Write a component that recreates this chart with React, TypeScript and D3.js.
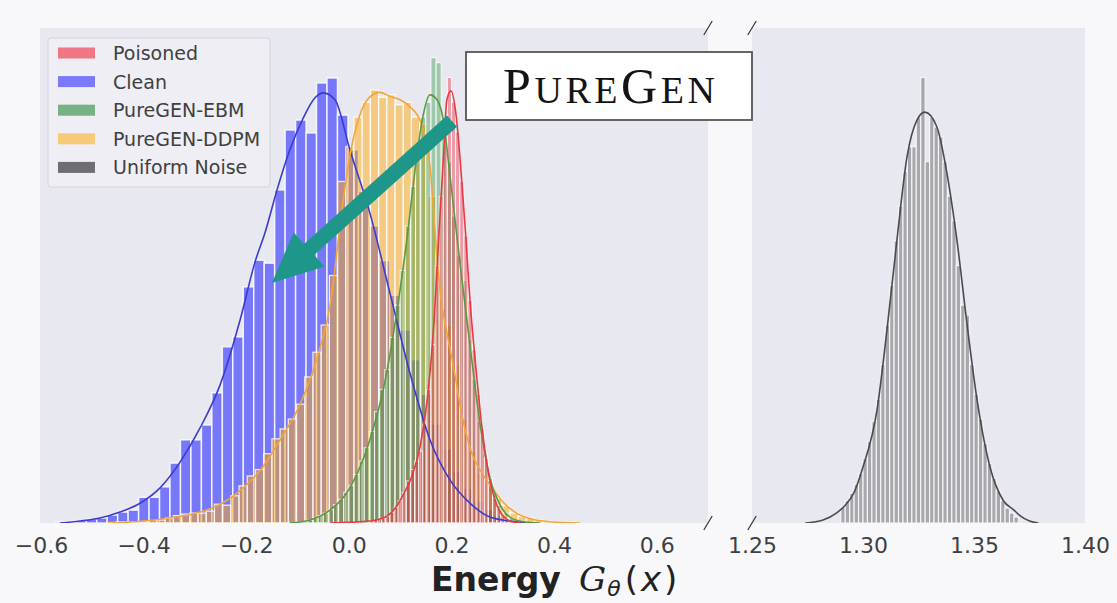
import React, { useEffect, useRef } from "react";
import * as d3 from "d3";

// histogram bins: first bin edge, bin width, bar heights (density)
const cleanStart = -0.573;
const cleanWidth = 0.0204;
const cleanHeights = [0.02, 0.03, 0.05, 0.08, 0.10, 0.16, 0.22, 0.26, 0.52, 0.52, 0.73, 1.21, 1.68, 1.68, 1.98, 2.63, 3.56, 3.76, 4.77, 5.31, 5.25, 6.73, 7.94, 8.14, 7.88, 8.89, 8.99, 8.24, 7.54, 6.7, 6.0, 5.3, 4.6, 3.9, 3.3, 2.6, 2.0, 1.5, 1.05, 0.7, 0.45, 0.28, 0.15, 0.08, 0.04];

const ddpmStart = -0.47;
const ddpmWidth = 0.016;
const ddpmHeights = [0.01, 0.02, 0.02, 0.02, 0.03, 0.05, 0.06, 0.10, 0.15, 0.18, 0.20, 0.20, 0.24, 0.38, 0.36, 0.55, 0.75, 0.95, 1.08, 1.40, 1.70, 1.90, 2.10, 2.40, 2.95, 3.45, 4.00, 5.00, 6.90, 7.60, 8.20, 8.50, 8.75, 8.60, 8.65, 8.45, 8.50, 8.20, 8.05, 6.60, 4.80, 4.00, 3.20, 2.10, 1.45, 1.00, 0.80, 0.50, 0.35, 0.20, 0.13, 0.10, 0.06, 0.04, 0.03, 0.02, 0.01];

const ebmStart = -0.10;
const ebmWidth = 0.01;
const ebmHeights = [0.02, 0.03, 0.06, 0.10, 0.15, 0.20, 0.27, 0.37, 0.48, 0.62, 0.76, 0.98, 1.25, 1.52, 1.85, 2.25, 2.70, 3.10, 3.75, 4.40, 5.10, 6.00, 6.80, 7.60, 8.20, 8.50, 9.40, 9.30, 8.00, 7.30, 6.20, 5.40, 4.90, 3.70, 2.90, 2.05, 1.40, 0.90, 0.60, 0.36, 0.20, 0.10];

const poisonStart = 0.04;
const poisonWidth = 0.008;
const poisonHeights = [0.04, 0.05, 0.07, 0.10, 0.14, 0.22, 0.32, 0.45, 0.62, 0.85, 1.08, 1.25, 1.45, 2.00, 2.70, 3.60, 5.20, 6.60, 8.00, 9.00, 8.50, 7.90, 6.90, 5.80, 4.50, 3.50, 2.60, 1.90, 1.30, 0.85, 0.50, 0.30, 0.16, 0.08, 0.04];

const noiseStart = 1.29;
const noiseWidth = 0.002;
const noiseHeights = [0.32, 0.45, 0.6, 0.78, 1.0, 1.3, 1.65, 2.05, 2.5, 3.2, 4.0, 4.8, 5.7, 6.4, 7.1, 7.6, 7.6, 8.2, 9.0, 7.3, 8.2, 8.0, 7.8, 7.3, 6.6, 6.1, 5.2, 4.4, 4.2, 3.2, 2.6, 2.1, 1.6, 1.2, 0.9, 0.65, 0.45, 0.3, 0.2, 0.12];

// kde curves: [energy, density]
const cleanKde = [[-0.563, 0], [-0.524, 0.04], [-0.485, 0.1], [-0.446, 0.22], [-0.407, 0.4], [-0.368, 0.71], [-0.329, 1.23], [-0.29, 1.92], [-0.251, 2.79], [-0.212, 4.1], [-0.183, 5.27], [-0.163, 5.88], [-0.14, 6.73], [-0.115, 7.54], [-0.089, 8.18], [-0.066, 8.59], [-0.05, 8.69], [-0.027, 8.55], [0.002, 7.54], [0.041, 6.26], [0.08, 4.65], [0.119, 3.03], [0.158, 1.68], [0.197, 0.87], [0.236, 0.4], [0.275, 0.12], [0.314, 0.04], [0.353, 0]];
const ddpmKde = [[-0.47, 0], [-0.41, 0.03], [-0.35, 0.1], [-0.29, 0.22], [-0.25, 0.38], [-0.21, 0.67], [-0.17, 1.1], [-0.13, 1.75], [-0.095, 2.4], [-0.06, 3.4], [-0.035, 4.5], [-0.015, 6.2], [0.0, 7.3], [0.02, 8.2], [0.04, 8.6], [0.06, 8.7], [0.08, 8.62], [0.1, 8.55], [0.12, 8.4], [0.14, 8.1], [0.16, 7.0], [0.17, 5.6], [0.18, 4.5], [0.19, 3.9], [0.205, 3.1], [0.22, 2.2], [0.24, 1.4], [0.26, 1.0], [0.28, 0.7], [0.3, 0.43], [0.33, 0.18], [0.36, 0.07], [0.4, 0.02], [0.45, 0]];
const ebmKde = [[-0.115, 0], [-0.076, 0.06], [-0.037, 0.26], [0.002, 0.71], [0.041, 1.68], [0.071, 2.89], [0.094, 4.3], [0.113, 5.72], [0.129, 7.13], [0.143, 8.14], [0.158, 8.65], [0.172, 8.55], [0.184, 8.14], [0.197, 7.03], [0.217, 5.21], [0.236, 3.6], [0.256, 1.98], [0.275, 0.91], [0.295, 0.36], [0.314, 0.12], [0.343, 0.02], [0.373, 0]];
const poisonKde = [[-0.037, 0], [0.041, 0.04], [0.071, 0.12], [0.09, 0.3], [0.106, 0.57], [0.123, 0.95], [0.139, 1.55], [0.154, 2.6], [0.166, 4.06], [0.176, 5.92], [0.184, 7.33], [0.191, 8.55], [0.199, 8.73], [0.209, 8.24], [0.217, 7.33], [0.227, 5.92], [0.236, 4.51], [0.248, 3.09], [0.26, 1.88], [0.271, 1.07], [0.285, 0.46], [0.299, 0.16], [0.314, 0.04], [0.334, 0]];
const noiseKde = [[1.274, 0], [1.282, 0.06], [1.288, 0.2], [1.292, 0.36], [1.296, 0.62], [1.3, 1.13], [1.3063, 2.28], [1.3108, 3.9], [1.3153, 5.72], [1.3198, 7.39], [1.3243, 8.14], [1.3279, 8.3], [1.3333, 8.0], [1.3378, 7.07], [1.3423, 5.72], [1.3468, 4.04], [1.3514, 2.48], [1.3572, 1.13], [1.3631, 0.46], [1.368, 0.26], [1.3707, 0.15], [1.375, 0.04], [1.379, 0]];

const leftTicks = [-0.6, -0.4, -0.2, 0.0, 0.2, 0.4, 0.6];
const rightTicks = [1.25, 1.30, 1.35, 1.40];
const legendLabels = ["Poisoned", "Clean", "PureGEN-EBM", "PureGEN-DDPM", "Uniform Noise"];

// arrow annotation, [energy, density] of tail and tip
const arrowTail = [0.201, 8.12];
const arrowTip = [-0.15, 4.85];

const App = () => {
    const svgRef = useRef<SVGSVGElement>(null);

    useEffect(() => {
        const W = 1117, H = 603;
        const top = 28, bottom = 523;
        const left = { x0: 40, x1: 708 };
        const right = { x0: 752, x1: 1085 };

        const svg = d3.select(svgRef.current);
        svg.selectAll("*").remove();
        svg.attr("width", W).attr("height", H);

        svg.append("rect").attr("width", W).attr("height", H).attr("fill", "#f8f8fb");

        const xLeft = d3.scaleLinear().domain([-0.602, 0.7]).range([left.x0, left.x1]);
        const xRight = d3.scaleLinear().domain([1.25, 1.4]).range([right.x0, right.x1]);
        const y = d3.scaleLinear().domain([0, 10]).range([bottom, top]);

        const defs = svg.append("defs");
        defs.append("clipPath").attr("id", "clipL").append("rect")
            .attr("x", left.x0).attr("y", top).attr("width", left.x1 - left.x0).attr("height", bottom - top);
        defs.append("clipPath").attr("id", "clipR").append("rect")
            .attr("x", right.x0).attr("y", top).attr("width", right.x1 - right.x0).attr("height", bottom - top);

        // panel backgrounds
        svg.append("rect").attr("x", left.x0).attr("y", top)
            .attr("width", left.x1 - left.x0).attr("height", bottom - top).attr("fill", "#e8e8f0");
        svg.append("rect").attr("x", right.x0).attr("y", top)
            .attr("width", right.x1 - right.x0).attr("height", bottom - top).attr("fill", "#e8e8f0");

        const series = [
            { name: "Clean", start: cleanStart, width: cleanWidth, heights: cleanHeights, kde: cleanKde, fill: "rgba(50,50,255,0.62)", line: "#3b3bd0", edge: 1.5, x: xLeft, clip: "clipL" },
            { name: "PureGEN-DDPM", start: ddpmStart, width: ddpmWidth, heights: ddpmHeights, kde: ddpmKde, fill: "rgba(255,170,20,0.5)", line: "#f2a53a", edge: 1.3, x: xLeft, clip: "clipL" },
            { name: "PureGEN-EBM", start: ebmStart, width: ebmWidth, heights: ebmHeights, kde: ebmKde, fill: "rgba(30,140,50,0.36)", line: "#5a9a40", edge: 1.1, x: xLeft, clip: "clipL" },
            { name: "Poisoned", start: poisonStart, width: poisonWidth, heights: poisonHeights, kde: poisonKde, fill: "rgba(240,30,50,0.38)", line: "#e83a42", edge: 1.0, x: xLeft, clip: "clipL" },
            { name: "Uniform Noise", start: noiseStart, width: noiseWidth, heights: noiseHeights, kde: noiseKde, fill: "rgba(60,60,66,0.38)", line: "#4a4a50", edge: 1.2, x: xRight, clip: "clipR" },
        ];

        // bars
        series.forEach(s => {
            const bins = s.heights.map((h, i) => ({ x0: s.start + i * s.width, x1: s.start + (i + 1) * s.width, h }));
            svg.append("g").attr("clip-path", `url(#${s.clip})`)
                .selectAll("rect").data(bins).join("rect")
                .attr("x", d => s.x(d.x0))
                .attr("width", d => s.x(d.x1) - s.x(d.x0))
                .attr("y", d => y(d.h))
                .attr("height", d => y(0) - y(d.h))
                .attr("fill", s.fill)
                .attr("stroke", "rgba(255,255,255,0.8)")
                .attr("stroke-width", s.edge);
        });

        // kde lines
        series.forEach(s => {
            const line = d3.line<number[]>()
                .x(d => s.x(d[0]))
                .y(d => y(d[1]))
                .curve(d3.curveMonotoneX);
            svg.append("path").attr("clip-path", `url(#${s.clip})`)
                .datum(s.kde)
                .attr("d", line)
                .attr("fill", "none")
                .attr("stroke", s.line)
                .attr("stroke-width", 1.6);
        });

        // axes
        const axL = svg.append("g").attr("transform", `translate(0,${bottom})`)
            .call(d3.axisBottom(xLeft).tickValues(leftTicks).tickSize(0).tickPadding(14).tickFormat(d3.format(".1f")));
        const axR = svg.append("g").attr("transform", `translate(0,${bottom})`)
            .call(d3.axisBottom(xRight).tickValues(rightTicks).tickSize(0).tickPadding(14).tickFormat(d3.format(".2f")));
        [axL, axR].forEach(ax => {
            ax.select(".domain").remove();
            ax.selectAll("text")
                .attr("font-size", 22)
                .attr("font-family", "DejaVu Sans")
                .attr("fill", "#404040");
        });

        // broken-axis marks
        const d = 7;
        [[left.x1, top], [left.x1, bottom], [right.x0, top], [right.x0, bottom]].forEach(([cx, cy]) => {
            svg.append("line")
                .attr("x1", cx - d * 0.6).attr("y1", cy + d)
                .attr("x2", cx + d * 0.6).attr("y2", cy - d)
                .attr("stroke", "#333").attr("stroke-width", 1.2);
        });

        // x label
        svg.append("text").attr("x", 431).attr("y", 591)
            .attr("font-family", "DejaVu Sans").attr("font-weight", "bold").attr("font-size", 33)
            .attr("fill", "#222").text("Energy");
        const math = svg.append("text").attr("x", 579).attr("y", 591)
            .attr("font-family", "DejaVu Sans").attr("font-size", 34).attr("fill", "#222");
        math.append("tspan").attr("font-family", "DejaVu Serif").attr("font-style", "italic").text("G");
        math.append("tspan").attr("font-size", 22).attr("font-style", "italic").attr("dx", 1).attr("dy", 5).text("θ");
        math.append("tspan").attr("dx", 4).attr("dy", -5).text("(");
        math.append("tspan").attr("font-style", "italic").attr("dx", 3).text("x");
        math.append("tspan").attr("dx", 3).text(")");

        // legend
        const lg = svg.append("g");
        lg.append("rect").attr("x", 48).attr("y", 38).attr("width", 222).attr("height", 149)
            .attr("rx", 3).attr("fill", "#eeeef4").attr("stroke", "#d4d4dc").attr("stroke-width", 1);
        const legendFills = ["rgba(240,20,40,0.55)", "rgba(50,50,255,0.62)", "rgba(20,130,40,0.55)", "rgba(255,165,0,0.5)", "rgba(40,40,46,0.65)"];
        legendLabels.forEach((lab, i) => {
            const cy = 53 + i * 28.6;
            lg.append("rect").attr("x", 58).attr("y", cy - 5.5).attr("width", 37).attr("height", 11)
                .attr("fill", legendFills[i]);
            lg.append("text").attr("x", 113).attr("y", cy + 7)
                .attr("font-family", "DejaVu Sans").attr("font-size", 19).attr("fill", "#404040").text(lab);
        });

        // arrow
        const tx = xLeft(arrowTail[0]), ty = y(arrowTail[1]);
        const px = xLeft(arrowTip[0]), py = y(arrowTip[1]);
        const len = Math.hypot(px - tx, py - ty);
        const ux = (px - tx) / len, uy = (py - ty) / len;
        const nx = -uy, ny = ux;
        const sw = 7.5, hl = 50, hw = 23;
        const bx = px - ux * hl, by = py - uy * hl;
        const pts = [
            [tx + nx * sw, ty + ny * sw], [bx + nx * sw, by + ny * sw], [bx + nx * hw, by + ny * hw],
            [px, py],
            [bx - nx * hw, by - ny * hw], [bx - nx * sw, by - ny * sw], [tx - nx * sw, ty - ny * sw],
        ];
        svg.append("polygon").attr("points", pts.map(p => p.join(",")).join(" ")).attr("fill", "#1e978a");

        // PureGen box
        svg.append("rect").attr("x", 466).attr("y", 52).attr("width", 286).attr("height", 68)
            .attr("fill", "#ffffff").attr("stroke", "#555").attr("stroke-width", 1.8);
        const pg = svg.append("text").attr("x", 503).attr("y", 103)
            .attr("font-family", "Liberation Serif").attr("fill", "#141414")
            .attr("textLength", 212).attr("lengthAdjust", "spacing");
        pg.append("tspan").attr("font-size", 50).text("P");
        pg.append("tspan").attr("font-size", 38).text("URE");
        pg.append("tspan").attr("font-size", 50).text("G");
        pg.append("tspan").attr("font-size", 38).text("EN");
    }, []);

    return (
        <svg ref={svgRef} style={{ position: "absolute", left: 0, top: 0, display: "block" }}></svg>
    );
};

export default App;
